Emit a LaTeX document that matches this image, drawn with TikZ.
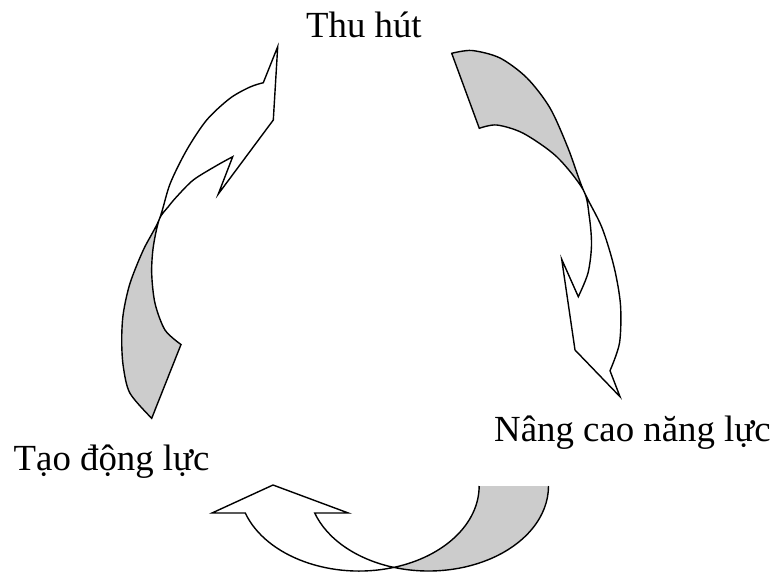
\documentclass[tikz,border=0pt]{standalone}
\usepackage{fontspec}
\setmainfont{Liberation Serif}
\usepackage{xcolor}
\definecolor{bandgray}{RGB}{204,204,204}

% outlines of the two rotated curved arrows
\def\leftband{plot[smooth] coordinates {(151.7,418.3) (130,393.3) (123.3,366.7) (121.7,340) (123.3,313.3) (130,283.3) (143.3,250) (159.3,219.3) (170,184) (186.7,150) (206.7,120) (230,98.3) (250,87) (263.3,82.7)} -- (277.7,46.7) -- (273.3,120) -- (218.3,194) -- plot[smooth] coordinates {(232.7,156.7) (216.7,165.5) (193.3,180) (176.7,196.7) (168.3,206.7) (159.3,219.3) (153.3,246.7) (151.7,273.3) (155,303.3) (165,330) (181,344.5)} -- cycle}
\def\rightband{plot[smooth] coordinates {(451.7,53.3) (472,50.5) (500,58) (527,78) (550,108) (568,148) (583.3,190) (601.7,227) (614,266.7) (620.5,305) (619.5,343) (610,370.7)} -- (620,396.7) -- (575,350) -- (561.7,259.3) -- plot[smooth] coordinates {(578.3,296.7) (588,273) (591.5,245) (589.3,216.7) (583.3,190) (556.7,156.7) (523.3,133.3) (496.7,125) (479.3,128.3)} -- cycle}

\begin{document}
\begin{tikzpicture}[x=1pt,y=-1pt,
  band/.style={draw=black,line width=1.4pt,line join=miter},
  label/.style={font=\fontsize{36.8}{42}\selectfont,inner sep=0pt,anchor=base west}]
\useasboundingbox (0,0) rectangle (775,573);

% labels
\node[label] (thuhut) at (306,37.3) {Thu hút};
\node[label] (nangcao) at (494,441.7) {Nâng cao năng lực};
\node[label] (taodongluc) at (13.5,470) {Tạo động lực};

% left arrow, up towards Thu hut
\begin{scope}
\clip (0,219.3) rectangle (775,573);
\fill[bandgray] \leftband;
\end{scope}
\draw[band] \leftband;

% right arrow, down towards Nang cao nang luc
\begin{scope}
\clip (0,0) rectangle (775,190);
\fill[bandgray] \rightband;
\end{scope}
\draw[band] \rightband;

% bottom arrow, back towards Tao dong luc
\filldraw[band,fill=bandgray] (548.5,486) arc[start angle=0,end angle=106.8,x radius=120,y radius=85]
  arc[start angle=73.2,end angle=0,x radius=120,y radius=85];
\draw[band] (393.75,567.4) arc[start angle=73.2,end angle=161.5,x radius=120,y radius=85]
  -- (212,513) -- (273,485) -- (348.3,513) -- (314.7,513)
  arc[start angle=161.5,end angle=106.8,x radius=120,y radius=85];
\end{tikzpicture}
\end{document}
